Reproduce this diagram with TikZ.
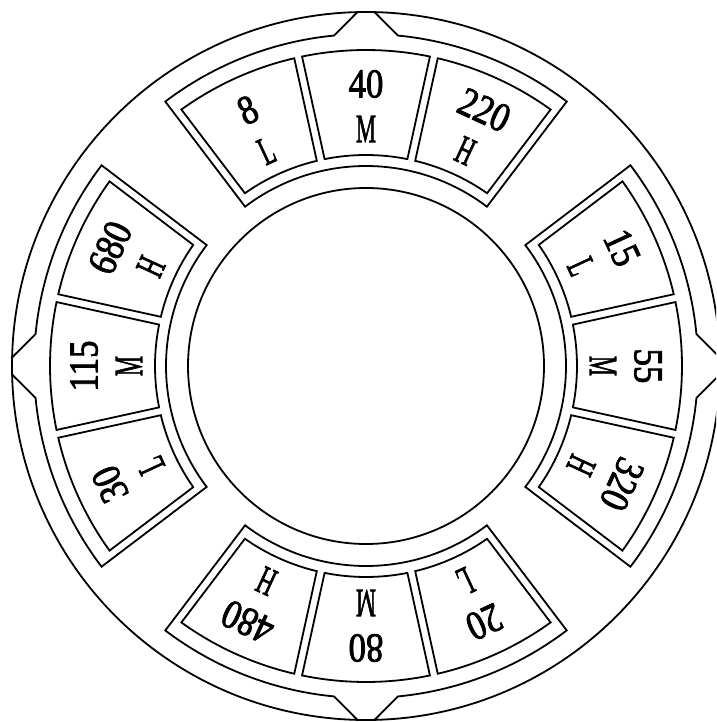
\documentclass[tikz,border=0pt]{standalone}
\usepackage{fontspec}
\setmainfont{Liberation Serif}
\newfontfamily\labfont[FakeBold=2.2]{Liberation Serif}
\usepackage{graphicx}
\begin{document}
\begin{tikzpicture}[x=1pt,y=1pt,
  ln/.style={draw=black,line width=1.8pt,line join=miter},
  numtxt/.style={inner sep=0pt,font=\labfont\fontsize{41}{41}\selectfont},
  lettxt/.style={inner sep=0pt,font=\labfont\fontsize{40}{40}\selectfont}]
\def\Ro{354}\def\Rf{332}\def\Rbo{316}\def\Rbi{211}\def\Rfi{200}\def\Ri{178}
\def\Hw{37.2}\def\Dv{12.4}
\newcommand\sectorbox[4]{%
  \pgfmathsetmacro\oa{#1+asin(#3/\Rbo)}%
  \pgfmathsetmacro\ob{#2-asin(#4/\Rbo)}%
  \pgfmathsetmacro\ia{#1+asin(#3/\Rbi)}%
  \pgfmathsetmacro\ib{#2-asin(#4/\Rbi)}%
  \draw[ln] (\oa:\Rbo) arc[start angle=\oa, end angle=\ob, radius=\Rbo]
    -- (\ib:\Rbi) arc[start angle=\ib, end angle=\ia, radius=\Rbi] -- cycle;
}
\newcommand\framesector[1]{%
  \pgfmathsetmacro\fa{#1-\Hw}%
  \pgfmathsetmacro\fb{#1+\Hw}%
  \pgfmathsetmacro\na{#1-5.5}%
  \pgfmathsetmacro\nb{#1+5.5}%
  \pgfmathsetmacro\ta{#1-1.4}%
  \pgfmathsetmacro\tb{#1+1.4}%
  \draw[ln] (\fa:\Rf) arc[start angle=\fa, end angle=\na, radius=\Rf]
    -- (\ta:\Ro) arc[start angle=\ta, end angle=\tb, radius=\Ro]
    -- (\nb:\Rf) arc[start angle=\nb, end angle=\fb, radius=\Rf]
    -- (\fb:\Rfi) arc[start angle=\fb, end angle=\fa, radius=\Rfi] -- cycle;
}
\useasboundingbox (-366,-356) rectangle (350,366);
\clip (-366,-356) rectangle (350,366);
\draw[ln] (0,0) circle[radius=\Ro];
\draw[ln] (0,0) circle[radius=\Ri];
\foreach \c/\hn/\mn/\lnum [count=\g] in {90/220/40/8, 0/320/55/15, 270/480/80/20, 180/680/115/30} {
  \framesector{\c}
  \sectorbox{\c-\Hw}{\c-\Dv}{8}{4}
  \sectorbox{\c-\Dv}{\c+\Dv}{4}{4}
  \sectorbox{\c+\Dv}{\c+\Hw}{4}{8}
  \pgfmathsetmacro\ah{\c-24.8}
  \pgfmathsetmacro\am{\c}
  \pgfmathsetmacro\al{\c+24.8}
  \node[numtxt,rotate=\ah-90] (nh\g) at (\ah:282) {\scalebox{0.85}[1]{\hn}};
  \node[lettxt,rotate=\ah-90] (lh\g) at (\ah:237) {\scalebox{0.56}[1]{H}};
  \node[numtxt,rotate=\am-90] (nm\g) at (\am:282) {\scalebox{0.85}[1]{\mn}};
  \node[lettxt,rotate=\am-90] (lm\g) at (\am:237) {\scalebox{0.56}[1]{M}};
  \node[numtxt,rotate=\al-90] (nl\g) at (\al:282) {\scalebox{0.85}[1]{\lnum}};
  \node[lettxt,rotate=\al-90] (ll\g) at (\al:237) {\scalebox{0.56}[1]{L}};
}
\end{tikzpicture}
\end{document}
